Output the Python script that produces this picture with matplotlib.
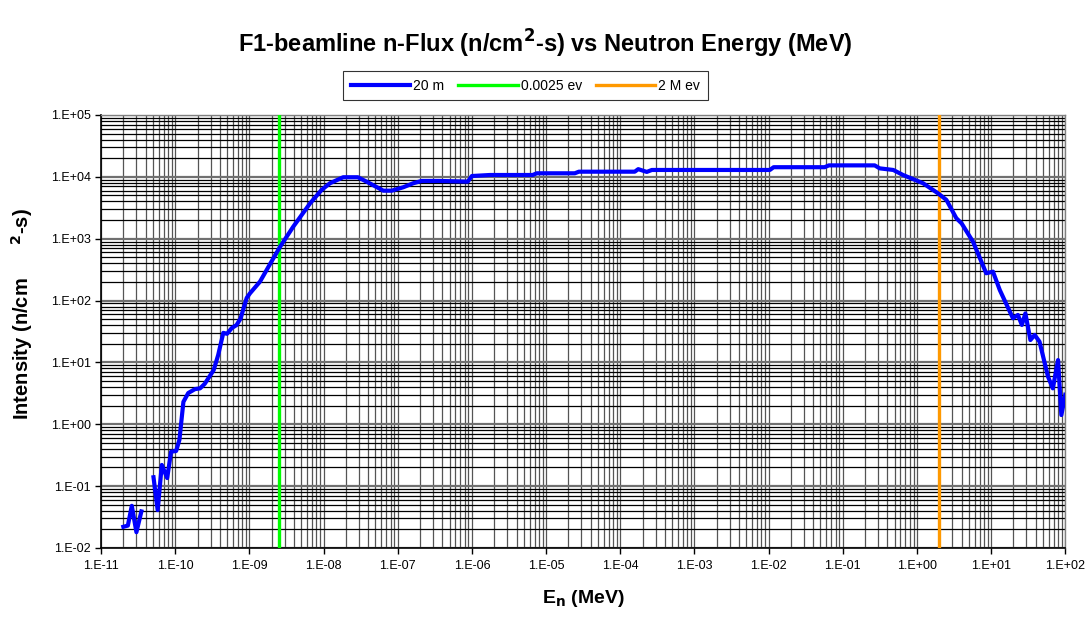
import numpy as np
import matplotlib
matplotlib.use("Agg")
import matplotlib.pyplot as plt
from matplotlib.ticker import LogLocator, FuncFormatter, NullFormatter

plt.rcParams['font.family'] = ['Liberation Sans', 'DejaVu Sans']

# Flujo de neutrones a 20 m (MeV, n/cm^2-s); NaN separa los tramos
energia = [2.0e-11, 2.3e-11, 2.6e-11, 3.0e-11, 3.5e-11, np.nan,
           5.1e-11, 5.8e-11, 6.6e-11, 7.8e-11, 8.8e-11, 1.03e-10, 1.14e-10,
           1.29e-10, 1.5e-10, 1.85e-10, 2.16e-10, 2.5e-10, 3.3e-10, 3.8e-10,
           4.45e-10, 5.0e-10, 5.8e-10, 6.7e-10, 7.6e-10, 9.2e-10, 1.02e-9,
           1.39e-9, 1.9e-9, 2.6e-9, 3.9e-9, 6.6e-9, 9.4e-9, 1.22e-8, 1.84e-8,
           2.9e-8, 3.8e-8, 6.4e-8, 8.3e-8, 1.19e-7, 1.62e-7, 2.1e-7, 3.7e-7,
           8.8e-7, 1.0e-6, 1.75e-6, 6.6e-6, 7.5e-6, 2.44e-5, 2.77e-5, 1.57e-4,
           1.75e-4, 2.28e-4, 2.67e-4, 1.04e-2, 1.17e-2, 5.7e-2, 6.5e-2, 0.27,
           0.315, 0.48, 0.65, 1.21, 1.92, 2.5, 3.4, 4.0, 5.7, 8.6, 10.6, 13.1,
           19.7, 23.0, 26.0, 29.0, 33.9, 38.7, 45.0, 58.5, 68.0, 80.0, 88.6,
           100.0]
flujo = [0.022, 0.023, 0.048, 0.018, 0.039, np.nan,
         0.139, 0.041, 0.22, 0.135, 0.36, 0.37, 0.56,
         2.3, 3.2, 3.7, 3.8, 4.5, 7.5, 13.2,
         30, 29, 36, 40, 51, 110, 131,
         202, 389, 743, 1560, 3740, 6130, 7870, 9840,
         9840, 8360, 5970, 5970, 6780, 7870, 8570, 8570,
         8360, 10300, 10700, 10700, 11400, 11400, 12100, 12100,
         13300, 12000, 12900, 12900, 14300, 14300, 15300, 15300,
         13700, 12900, 10700, 7870, 5420, 4230, 2140, 1770, 894, 276, 293, 148,
         51.7, 58.5, 40.3, 62, 23, 27.8, 21.6, 5.9, 3.8, 10.9, 1.41,
         3.0]

e_termica = 2.5e-9   # 0.0025 eV
e_rapida = 2.0       # 2 MeV

fig = plt.figure(figsize=(10.91, 6.18), dpi=100)
ax = fig.add_axes([0.0926, 0.1133, 0.8838, 0.7007])

ax.plot(energia, flujo, color='#0000FF', linewidth=3.0, label='20 m',
        solid_joinstyle='round', zorder=4)
ax.axvline(e_termica, color='#00FF00', linewidth=2.4, label='0.0025 ev', zorder=3)
ax.axvline(e_rapida, color='#FF9900', linewidth=2.4, label='2 M ev', zorder=3)

ax.set_xscale('log')
ax.set_yscale('log')
ax.set_xlim(1e-11, 1e2)
ax.set_ylim(1e-2, 1e5)

ax.xaxis.set_major_locator(LogLocator(base=10, numticks=20))
ax.yaxis.set_major_locator(LogLocator(base=10, numticks=20))
ax.xaxis.set_minor_locator(LogLocator(base=10, subs=np.arange(2, 10), numticks=200))
ax.yaxis.set_minor_locator(LogLocator(base=10, subs=np.arange(2, 10), numticks=200))
fmt = FuncFormatter(lambda v, p: "1.E%+03d" % int(round(np.log10(v))))
ax.xaxis.set_major_formatter(fmt)
ax.yaxis.set_major_formatter(fmt)
ax.xaxis.set_minor_formatter(NullFormatter())
ax.yaxis.set_minor_formatter(NullFormatter())

# Rejilla estilo Excel
ax.grid(True, axis='x', which='both', color='#555555', linewidth=0.9)
ax.grid(True, axis='y', which='major', color='#707070', linewidth=1.6)
ax.grid(True, axis='y', which='minor', color='black', linewidth=0.9)
ax.set_axisbelow(True)

ax.tick_params(axis='both', which='major', direction='out', length=4,
               width=1, labelsize=9, colors='black')
ax.tick_params(axis='x', which='major', pad=5)
ax.tick_params(axis='both', which='minor', length=0)
for s in ['left', 'bottom']:
    ax.spines[s].set_color('black')
    ax.spines[s].set_linewidth(1.2)
for s in ['top', 'right']:
    ax.spines[s].set_color('#808080')
    ax.spines[s].set_linewidth(1.0)

ax.set_xlabel('E$_\\mathbf{n}$ (MeV)', fontsize=14, fontweight='bold', labelpad=11)
ax.set_ylabel('Intensity (n/cm      $^\\mathbf{2}$-s)', fontsize=14.5,
              fontweight='bold')
ax.yaxis.set_label_coords(-0.068, 0.54)
fig.suptitle('F1-beamline n-Flux (n/cm$^\\mathbf{2}$-s) vs Neutron Energy (MeV)',
             fontsize=17, fontweight='bold', y=0.955)

leg = ax.legend(loc='lower center', bbox_to_anchor=(0.44, 1.018), ncol=3,
                fontsize=10, frameon=True, fancybox=False, edgecolor='black',
                handlelength=4.3, handletextpad=0.2, columnspacing=1.0,
                borderpad=0.55)
leg.get_frame().set_linewidth(0.8)

fig.savefig('out.png', dpi=100, facecolor='white')
